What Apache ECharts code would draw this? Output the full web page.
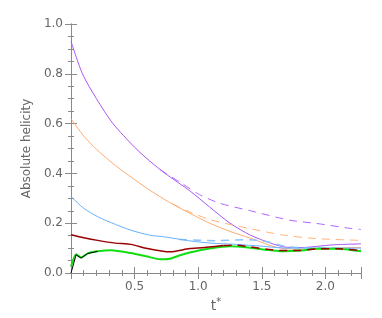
<!DOCTYPE html>
<html><head><meta charset="utf-8">
<script src="https://cdn.jsdelivr.net/npm/echarts@6/dist/echarts.min.js"></script>
<style>html,body{margin:0;padding:0;background:#fff}#c{width:382px;height:318px}</style>
</head><body><div id="c"></div>
<script>
const xTicks = [0.5, 1.0, 1.5, 2.0];
const yTicks = [0.0, 0.2, 0.4, 0.6, 0.8, 1.0];

const purpleT = [0, 0.09, 0.2, 0.33, 0.5, 0.618, 0.74, 0.934, 1.09, 1.25, 1.41, 1.57, 1.67, 1.8, 2.06, 2.28];
const purpleV = [0.93, 0.80, 0.70, 0.60, 0.505, 0.45, 0.40, 0.33, 0.265, 0.2, 0.152, 0.12, 0.105, 0.102, 0.113, 0.117];
const purpleDashT = [0.7, 0.855, 1.01, 1.17, 1.41, 1.72, 1.93, 2.2, 2.28];
const purpleDashV = [0.415, 0.365, 0.315, 0.28, 0.25, 0.212, 0.199, 0.179, 0.175];

const orangeT = [0, 0.1, 0.2, 0.3, 0.4, 0.5, 0.618, 0.776, 0.934, 1.09, 1.25, 1.41, 1.5, 1.6, 1.7, 1.9, 2.1, 2.28];
const orangeV = [0.62, 0.55, 0.497, 0.452, 0.412, 0.375, 0.333, 0.283, 0.24, 0.2, 0.167, 0.14, 0.123, 0.105, 0.097, 0.095, 0.1, 0.103];
const orangeDashT = [0.8, 0.934, 1.09, 1.25, 1.41, 1.67, 1.93, 2.28];
const orangeDashV = [0.277, 0.245, 0.215, 0.195, 0.178, 0.152, 0.138, 0.131];

const blueT = [0, 0.1, 0.21, 0.35, 0.47, 0.618, 0.736, 0.934, 1.1, 1.3, 1.49, 1.7, 2.0, 2.28];
const blueV = [0.307, 0.26, 0.226, 0.195, 0.172, 0.152, 0.145, 0.129, 0.12, 0.115, 0.108, 0.1, 0.1, 0.1];
const blueDashT = [0.85, 1.14, 1.41, 1.55, 1.7, 2.0, 2.28];
const blueDashV = [0.135, 0.13, 0.134, 0.125, 0.105, 0.1, 0.095];

const redT = [0, 0.1, 0.21, 0.35, 0.47, 0.6, 0.736, 0.776, 0.934, 1.09, 1.2];
const redV = [0.154, 0.142, 0.131, 0.12, 0.115, 0.098, 0.086, 0.085, 0.098, 0.104, 0.11];
const redDashT = [1.2, 1.3, 1.41, 1.55, 1.67, 1.8, 1.93, 2.1, 2.28];
const redDashV = [0.11, 0.112, 0.105, 0.095, 0.09, 0.09, 0.097, 0.097, 0.09];

const greenT = [0, 0.04, 0.079, 0.131, 0.21, 0.316, 0.47, 0.6, 0.7, 0.776, 0.85, 0.934, 1.09, 1.25, 1.41, 1.55, 1.67, 1.8, 1.93, 2.1, 2.28];
const greenV = [0.025, 0.075, 0.062, 0.079, 0.087, 0.091, 0.08, 0.066, 0.055, 0.057, 0.07, 0.082, 0.098, 0.107, 0.101, 0.092, 0.087, 0.09, 0.097, 0.097, 0.087];

const blackT = [0, 0.04, 0.079, 0.131, 0.21];
const blackV = [0.0, 0.073, 0.06, 0.078, 0.087];

const zip = (t, v) => t.map((x, i) => [x, v[i]]);
const line = (t, v, color, width, dashed, smooth) => ({
  type: 'line', data: zip(t, v), symbol: 'none', smooth: smooth,
  lineStyle: { color: color, width: width, type: dashed ? [8, 6] : 'solid' },
  silent: true, animation: false
});

const axisCol = '#8a8a8a';
const labCol = '#666';
const chart = echarts.init(document.getElementById('c'));
const xBase = {
  type: 'value', min: 0, max: 2.28, interval: 0.5,
  axisLine: { show: true, lineStyle: { color: axisCol, width: 1 } },
  axisTick: { show: true, inside: true, length: 6, lineStyle: { color: axisCol } },
  minorTick: { show: true, splitNumber: 5, length: 3, lineStyle: { color: axisCol } },
  splitLine: { show: false }
};
const yBase = {
  type: 'value', min: 0, max: 1, interval: 0.2,
  axisLine: { show: true, lineStyle: { color: axisCol, width: 1 } },
  axisTick: { show: true, inside: true, length: 6, lineStyle: { color: axisCol } },
  minorTick: { show: true, splitNumber: 4, length: 3, lineStyle: { color: axisCol } },
  splitLine: { show: false }
};
chart.setOption({
  animation: false,
  grid: { left: 71, right: 21, top: 24, bottom: 45 },
  xAxis: [
    Object.assign({}, xBase, {
      position: 'bottom',
      axisLabel: { color: labCol, fontSize: 12, fontFamily: 'DejaVu Sans', margin: 8,
        showMinLabel: false, showMaxLabel: false,
        formatter: v => xTicks.some(t => Math.abs(t - v) < 1e-6) ? v.toFixed(1) : '' },
      name: 't{s|*}', nameLocation: 'middle', nameGap: 18,
      nameTextStyle: { color: labCol, fontSize: 14, fontFamily: 'DejaVu Sans',
        rich: { s: { fontSize: 10, verticalAlign: 'top', color: labCol, padding: [0, 0, 6, 0] } } }
    }),
    Object.assign({}, xBase, { position: 'top', axisLabel: { show: false } })
  ],
  yAxis: [
    Object.assign({}, yBase, {
      position: 'left',
      axisLabel: { color: labCol, fontSize: 12, fontFamily: 'DejaVu Sans', margin: 8,
        formatter: v => yTicks.some(t => Math.abs(t - v) < 1e-6) ? v.toFixed(1) : '' },
      name: 'Absolute helicity', nameLocation: 'middle', nameGap: 29,
      nameTextStyle: { color: labCol, fontSize: 12, fontFamily: 'DejaVu Sans' }
    }),
    Object.assign({}, yBase, { position: 'right', axisLabel: { show: false } })
  ],
  series: [
    line(purpleDashT, purpleDashV, '#b066ff', 1, true, 0.25),
    line(purpleT, purpleV, '#a855f7', 1, false, 0.25),
    line(orangeDashT, orangeDashV, '#ffb27a', 1, true, 0.25),
    line(orangeT, orangeV, '#ffaa70', 1, false, 0.25),
    line(blueDashT, blueDashV, '#8cc4ff', 1.5, true, 0.25),
    line(blueT, blueV, '#66b0ff', 1, false, 0.25),
    line(greenT, greenV, '#11dd11', 2, false, 0.2),
    line(redT, redV, '#990000', 1.5, false, 0.25),
    line(redDashT, redDashV, '#990000', 1.5, true, 0.25),
    line(blackT, blackV, '#000000', 1, false, false)
  ]
});
</script></body></html>
